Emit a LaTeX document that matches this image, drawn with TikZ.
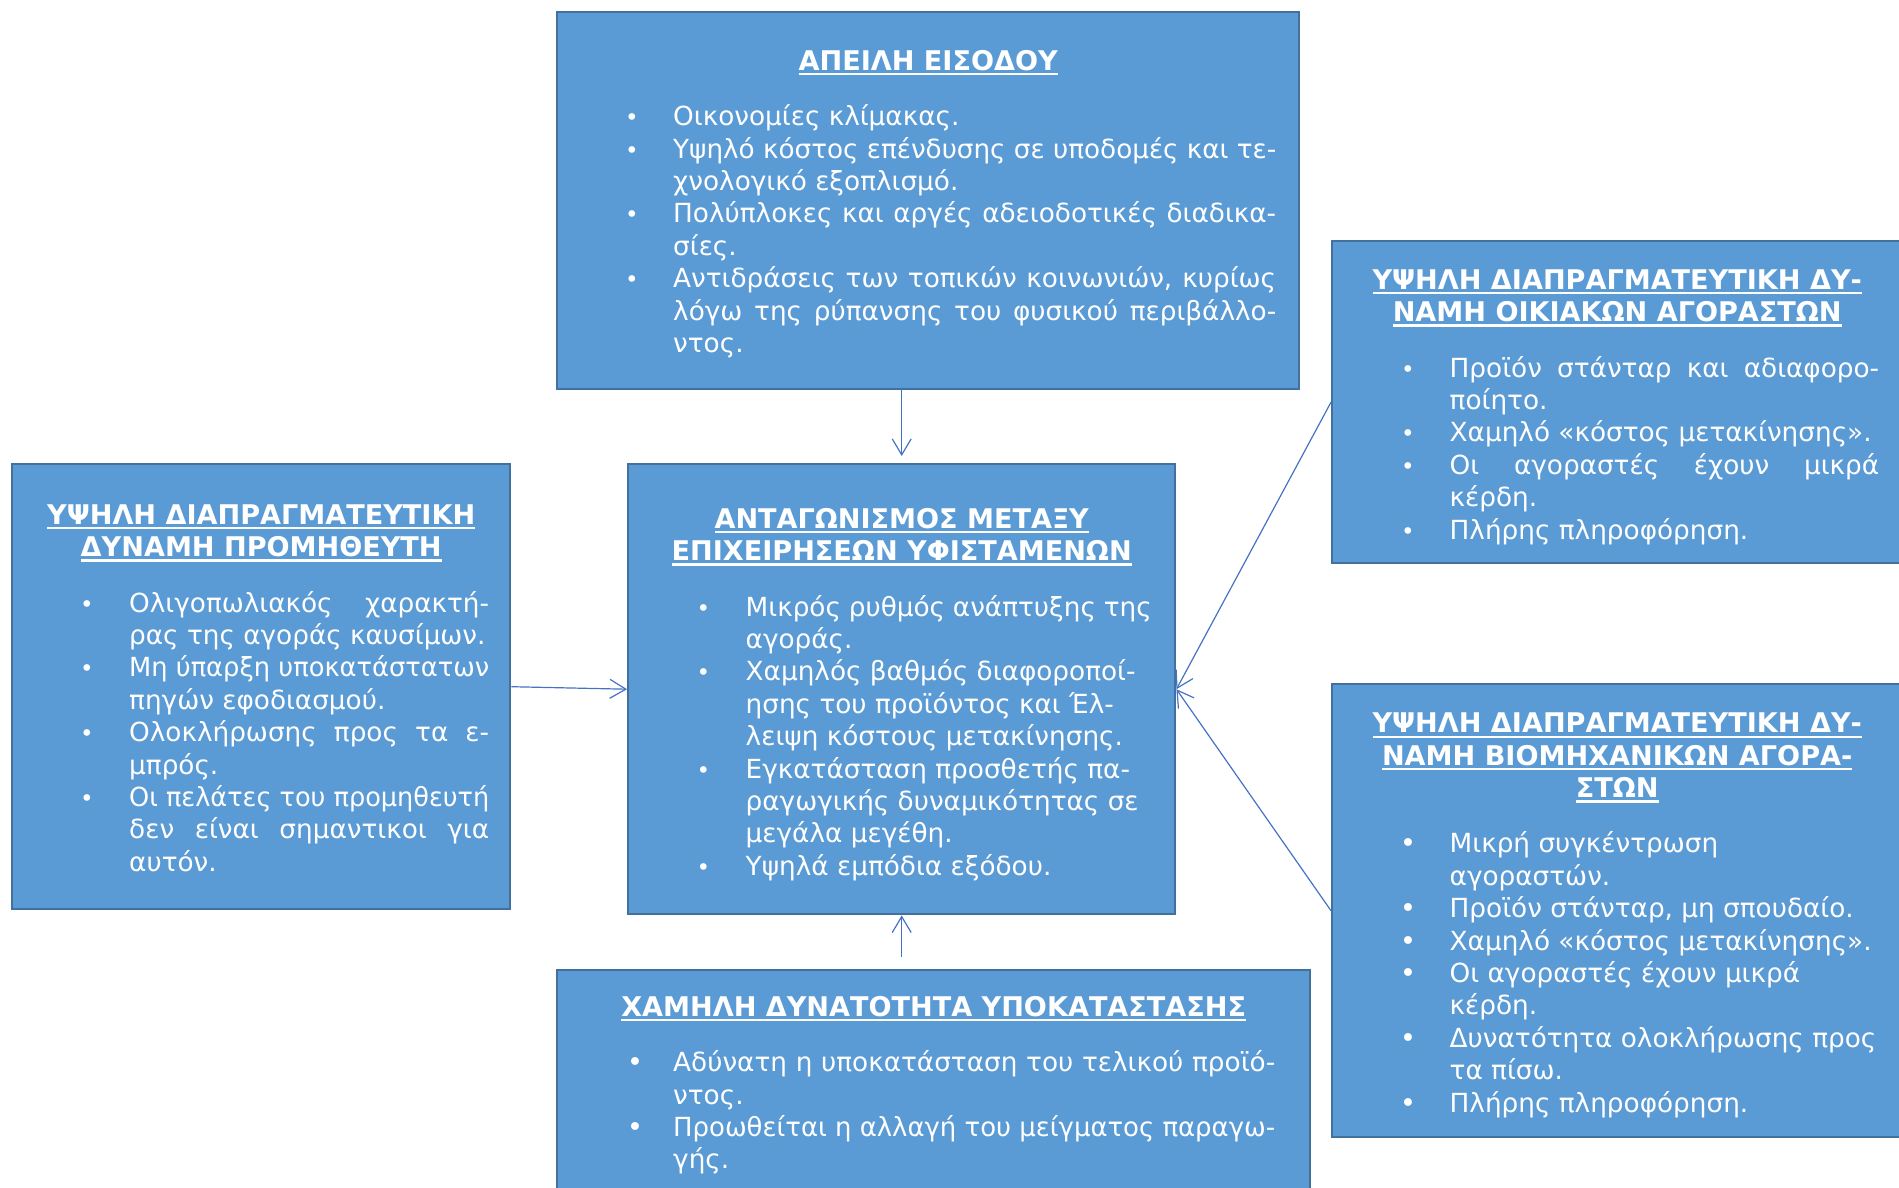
\documentclass[tikz,border=0pt]{standalone}
\usepackage{fontspec}
\usepackage{graphicx}
\setmainfont{DejaVu Sans}
\usetikzlibrary{arrows.meta}

\definecolor{boxfill}{HTML}{5B9BD5}
\definecolor{boxline}{HTML}{41719C}
\definecolor{linkblue}{HTML}{4472C4}

% geometry of the bullet lists inside a box
\newlength\boff \newlength\toff \newlength\tw
\newcommand\bodysize{\fontsize{26.3pt}{32.4pt}\selectfont}

% underlined, bold, centred heading line
\newcommand\ulbar[1]{\setbox0=\hbox{#1}\rlap{\rule[-5pt]{\wd0}{2.2pt}}\box0}
\newcommand\ttl[1]{\par\centerline{\strut\fontsize{27.1pt}{32.4pt}\bfseries\ulbar{#1}}}
\newcommand\ttlgap{\par\vspace{23pt}}

% bullets
\newcommand\smallbul{{\fontsize{23pt}{0pt}\selectfont •}}
\newcommand\bigbul{{\fontsize{27pt}{0pt}\selectfont •}}
\let\curbul\smallbul

% one list item; lines are separated with \nl, justified lines wrapped in \J
\newcommand\itm[1]{\par\hangindent=\toff\hangafter=1\noindent
  \hspace*{\boff}\makebox[\dimexpr\toff-\boff\relax][l]{\curbul}\strut#1\strut\par}
\newcommand\J[1]{\setbox1=\hbox{#1}%
  \ifdim\wd1>\tw\resizebox{\tw}{\height}{#1}\else\makebox[\tw][s]{#1}\fi}
\newcommand\nl{\newline\strut}

% #1 text width, #2 box height, #3 heading baseline, #4 bullet offset, #5 text offset, #6 body
\newcommand\content[6]{%
  \begin{minipage}[t][#2][t]{#1}%
  \setlength\boff{#4}\setlength\toff{#5}\setlength\tw{\dimexpr#1-#5\relax}%
  \bodysize\raggedright
  \vspace*{\dimexpr#3-22.68pt\relax}#6\end{minipage}}

\tikzset{
  forcebox/.style={draw=boxline, fill=boxfill, line width=2.4pt, inner sep=0pt,
    anchor=north west, text=white},
  link/.style={draw=linkblue, line width=1.2pt,
    -{Straight Barb[length=16pt,width=19pt,line width=1.2pt]}}
}

\begin{document}
\begin{tikzpicture}[x=1pt,y=-1pt]
\useasboundingbox (0,0) rectangle (1899,1187);

% threat of new entrants
\node[forcebox, minimum width=742pt, minimum height=377pt] (entry) at (556,11)
{\content{696pt}{377pt}{58pt}{45pt}{93pt}{%
  \ttl{ΑΠΕΙΛΗ ΕΙΣΟΔΟΥ}\ttlgap
  \itm{Οικονομίες κλίμακας.}
  \itm{\J{Υψηλό κόστος επένδυσης σε υποδομές και τε-}\nl χνολογικό εξοπλισμό.}
  \itm{\J{Πολύπλοκες και αργές αδειοδοτικές διαδικα-}\nl σίες.}
  \itm{\J{Αντιδράσεις των τοπικών κοινωνιών, κυρίως}\nl
       \J{λόγω της ρύπανσης του φυσικού περιβάλλο-}\nl ντος.}}};

% bargaining power of suppliers
\node[forcebox, minimum width=498pt, minimum height=445pt] (supplier) at (11,463)
{\content{456pt}{445pt}{60pt}{47pt}{96pt}{%
  \ttl{ΥΨΗΛΗ ΔΙΑΠΡΑΓΜΑΤΕΥΤΙΚΗ}\ttl{ΔΥΝΑΜΗ ΠΡΟΜΗΘΕΥΤΗ}\ttlgap
  \itm{\J{Ολιγοπωλιακός χαρακτή-}\nl ρας της αγοράς καυσίμων.}
  \itm{\J{Μη ύπαρξη υποκατάστατων}\nl πηγών εφοδιασμού.}
  \itm{\J{Ολοκλήρωσης προς τα ε-}\nl μπρός.}
  \itm{\J{Οι πελάτες του προμηθευτή}\nl \J{δεν είναι σημαντικοι για}\nl αυτόν.}}};

% rivalry among existing firms
\node[forcebox, minimum width=547pt, minimum height=450pt] (center) at (627,463)
{\content{500pt}{450pt}{64pt}{45pt}{94pt}{%
  \ttl{ΑΝΤΑΓΩΝΙΣΜΟΣ ΜΕΤΑΞΥ}\ttl{ΕΠΙΧΕΙΡΗΣΕΩΝ ΥΦΙΣΤΑΜΕΝΩΝ}\ttlgap
  \itm{Μικρός ρυθμός ανάπτυξης της\nl αγοράς.}
  \itm{Χαμηλός βαθμός διαφοροποί-\nl ησης του προϊόντος και Έλ-\nl λειψη κόστους μετακίνησης.}
  \itm{Εγκατάσταση προσθετής πα-\nl ραγωγικής δυναμικότητας σε\nl μεγάλα μεγέθη.}
  \itm{Υψηλά εμπόδια εξόδου.}}};

% bargaining power of household buyers
\node[forcebox, minimum width=570pt, minimum height=322pt] (household) at (1331,240)
{\content{524pt}{322pt}{48pt}{46pt}{94.5pt}{%
  \ttl{ΥΨΗΛΗ ΔΙΑΠΡΑΓΜΑΤΕΥΤΙΚΗ ΔΥ-}\ttl{ΝΑΜΗ ΟΙΚΙΑΚΩΝ ΑΓΟΡΑΣΤΩΝ}\ttlgap
  \itm{\J{Προϊόν στάνταρ και αδιαφορο-}\nl ποίητο.}
  \itm{Χαμηλό «κόστος μετακίνησης».}
  \itm{\J{Οι αγοραστές έχουν μικρά}\nl κέρδη.}
  \itm{Πλήρης πληροφόρηση.}}};

% bargaining power of industrial buyers
\node[forcebox, minimum width=570pt, minimum height=453pt] (industrial) at (1331,683)
{\content{524pt}{453pt}{48.5pt}{45pt}{94.5pt}{%
  \let\curbul\bigbul
  \ttl{ΥΨΗΛΗ ΔΙΑΠΡΑΓΜΑΤΕΥΤΙΚΗ ΔΥ-}\ttl{ΝΑΜΗ ΒΙΟΜΗΧΑΝΙΚΩΝ ΑΓΟΡΑ-}\ttl{ΣΤΩΝ}\ttlgap
  \itm{Μικρή συγκέντρωση\nl αγοραστών.}
  \itm{Προϊόν στάνταρ, μη σπουδαίο.}
  \itm{Χαμηλό «κόστος μετακίνησης».}
  \itm{Οι αγοραστές έχουν μικρά\nl κέρδη.}
  \itm{Δυνατότητα ολοκλήρωσης προς\nl τα πίσω.}
  \itm{Πλήρης πληροφόρηση.}}};

% threat of substitutes
\node[forcebox, minimum width=753pt, minimum height=225pt] (substitute) at (556,969)
{\content{683pt}{225pt}{46pt}{35pt}{81pt}{%
  \let\curbul\bigbul
  \ttl{ΧΑΜΗΛΗ ΔΥΝΑΤΟΤΗΤΑ ΥΠΟΚΑΤΑΣΤΑΣΗΣ}\ttlgap
  \itm{\J{Αδύνατη η υποκατάσταση του τελικού προϊό-}\nl ντος.}
  \itm{\J{Προωθείται η αλλαγή του μείγματος παραγω-}\nl γής.}}};

% forces acting on the rivalry
\draw[link, shorten >=7pt] (center.north |- entry.south) -- (center.north);
\draw[link] (supplier.east) -- (center.west);
\draw[link] (household.west) -- (center.east);
\draw[link] (industrial.west) -- (center.east);
\draw[link, shorten <=12pt] (center.south |- substitute.north) -- (center.south);
\end{tikzpicture}
\end{document}
